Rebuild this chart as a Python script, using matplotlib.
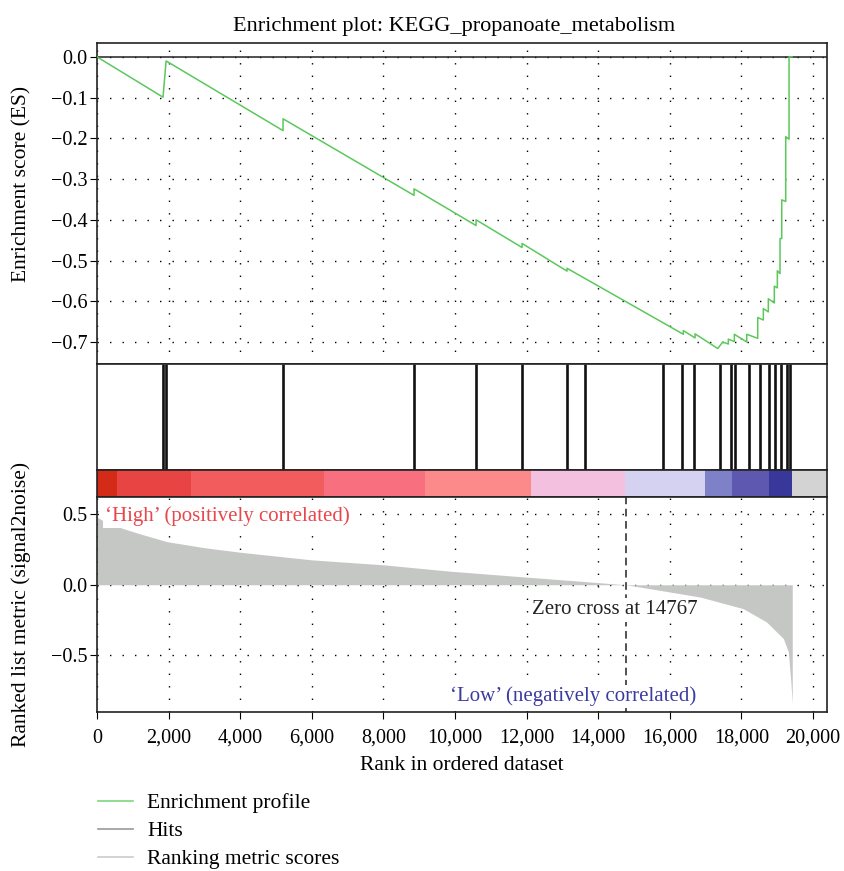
import matplotlib
matplotlib.use("Agg")
import matplotlib.pyplot as plt
from matplotlib.lines import Line2D
from matplotlib.ticker import FuncFormatter, MultipleLocator

# ranks of the genes of the set in the ordered list (hits)
hit_ranks = [1844, 1927, 5196, 8855, 10587, 11872, 13128, 13631, 15810, 16341,
             16676, 17402, 17709, 17821, 18212, 18520, 18771, 18939, 19106, 19274, 19358]

# corners of the running enrichment score
es_ranks = [0, 1844, 1930, 5196, 5196, 8855, 8855, 10587, 10587, 11872, 11872,
            13128, 13128, 16377, 16377, 16704, 16704, 17338, 17478, 17634, 17634,
            17802, 17802, 18148, 18148, 18455, 18455, 18612, 18612, 18751, 18751,
            18919, 18919, 19003, 19003, 19078, 19078, 19126, 19126, 19237, 19237,
            19330, 19330, 19413]
es_values = [0.0, -0.099, -0.010, -0.181, -0.152, -0.340, -0.324, -0.414, -0.400, -0.468, -0.458,
             -0.526, -0.519, -0.681, -0.672, -0.690, -0.680, -0.716, -0.700, -0.705, -0.693,
             -0.699, -0.681, -0.700, -0.681, -0.691, -0.640, -0.646, -0.618, -0.626, -0.594,
             -0.604, -0.563, -0.567, -0.525, -0.532, -0.446, -0.446, -0.351, -0.355, -0.196,
             -0.202, 0.0, 0.0]

# ranked list metric (signal2noise) along the ordered list
metric_ranks = [0, 150, 400, 700, 1200, 1950, 3000, 4000, 6000, 8000, 9860, 12000,
                13500, 14767, 15450, 16850, 18050, 18700, 19170, 19310, 19380, 19420]
metric_values = [0.48, 0.455, 0.43, 0.40, 0.36, 0.305, 0.262, 0.23, 0.176, 0.141, 0.096, 0.054,
                 0.025, 0.0, -0.028, -0.087, -0.169, -0.263, -0.38, -0.474, -0.685, -0.84]

# borders and colours of the heat bar under the hits
bar_edges = [0, 559, 2626, 6341, 9162, 12123, 14749, 16983, 17737, 18771, 19413]
bar_colors = ["#d42a18", "#e84444", "#f25c5c", "#f87080", "#fc8a8a",
              "#f4c0e0", "#d4d2f0", "#7e80c8", "#5e58b0", "#38389a"]

zero_cross = 14767
title = "Enrichment plot: KEGG_propanoate_metabolism"

X_MAX = 20390
FONT = 15.5
NOTE_FONT = 15
TICK_FONT = 14.5
GRID = dict(color="black", linestyle=(0, (1, 8)), linewidth=1.0)


def style_spines(axis):
    for spine in axis.spines.values():
        spine.set_color("#222222")
        spine.set_linewidth(1.2)


def signed(v, p):
    # one decimal with a real minus sign
    return f"{v:.1f}".replace("-", "\u2212")


def main():
    plt.rcParams["font.family"] = ["Liberation Serif", "DejaVu Serif"]
    plt.rcParams["font.size"] = FONT

    fig = plt.figure(figsize=(8.45, 8.71), dpi=100)
    left, width = 0.1148, 0.8639
    ax_es = fig.add_axes([left, 0.5821, width, 0.3685])
    ax_hits = fig.add_axes([left, 0.4604, width, 0.1217])
    ax_bar = fig.add_axes([left, 0.4294, width, 0.0310])
    ax_metric = fig.add_axes([left, 0.1825, width, 0.2468])

    # enrichment score panel
    ax_es.plot(es_ranks, es_values, color="#5cc85c", linewidth=1.1, zorder=3)
    ax_es.axhline(0, color="#222222", linewidth=1.1, zorder=2)
    ax_es.set_xlim(0, X_MAX)
    ax_es.set_ylim(-0.754, 0.034)
    ax_es.xaxis.set_major_locator(MultipleLocator(2000))
    ax_es.yaxis.set_major_locator(MultipleLocator(0.1))
    ax_es.yaxis.set_major_formatter(FuncFormatter(signed))
    ax_es.grid(True, **GRID)
    ax_es.tick_params(axis="x", bottom=False, labelbottom=False)
    ax_es.tick_params(axis="y", direction="out", length=5, pad=2, labelsize=TICK_FONT)
    ax_es.set_ylabel("Enrichment score (ES)", fontsize=FONT)
    ax_es.yaxis.set_label_coords(-0.09, 0.56)
    ax_es.set_title(title, fontsize=16, pad=9, x=0.489)
    style_spines(ax_es)

    # hits panel
    ax_hits.vlines(hit_ranks, 0, 1, color="#111111", linewidth=1.9)
    ax_hits.set_xlim(0, X_MAX)
    ax_hits.set_ylim(0, 1)
    ax_hits.set_xticks([])
    ax_hits.set_yticks([])
    style_spines(ax_hits)

    # heat bar
    ax_bar.set_facecolor("#d3d3d3")
    for start, end, color in zip(bar_edges[:-1], bar_edges[1:], bar_colors):
        ax_bar.axvspan(start, end, color=color, linewidth=0)
    ax_bar.set_xlim(0, X_MAX)
    ax_bar.set_xticks([])
    ax_bar.set_yticks([])
    style_spines(ax_bar)

    # ranked list metric panel
    ax_metric.fill_between(metric_ranks, metric_values, 0, color="#c5c7c5", linewidth=0, zorder=2)
    ax_metric.axvline(zero_cross, color="#222222", linestyle=(0, (5, 3)), linewidth=1.1, zorder=3)
    ax_metric.set_xlim(0, X_MAX)
    ax_metric.set_ylim(-0.90, 0.62)
    ax_metric.xaxis.set_major_locator(MultipleLocator(2000))
    ax_metric.xaxis.set_major_formatter(FuncFormatter(lambda v, p: f"{int(v):,}"))
    ax_metric.yaxis.set_major_locator(MultipleLocator(0.5))
    ax_metric.yaxis.set_major_formatter(FuncFormatter(signed))
    ax_metric.grid(True, **GRID)
    ax_metric.set_axisbelow(True)
    ax_metric.tick_params(axis="x", direction="out", length=5, pad=7, labelsize=TICK_FONT)
    ax_metric.tick_params(axis="y", direction="out", length=5, pad=2, labelsize=TICK_FONT)
    ax_metric.set_xlabel("Rank in ordered dataset", fontsize=FONT, labelpad=6)
    ax_metric.set_ylabel("Ranked list metric (signal2noise)", fontsize=FONT)
    ax_metric.yaxis.set_label_coords(-0.09, 0.5)
    style_spines(ax_metric)

    # notes inside the metric panel, on white boxes
    box = dict(facecolor="white", edgecolor="none", pad=1.5)
    ax_metric.text(220, 0.483, "\u2018High\u2019 (positively correlated)", color="#e8474b",
                   ha="left", va="center", fontsize=NOTE_FONT, bbox=box, zorder=4)
    ax_metric.text(9860, -0.79, "\u2018Low\u2019 (negatively correlated)", color="#3c3ca0",
                   ha="left", va="center", fontsize=NOTE_FONT, bbox=box, zorder=4)
    ax_metric.text(12140, -0.178, f"Zero cross at {zero_cross}", color="#222222",
                   ha="left", va="center", fontsize=NOTE_FONT, bbox=box, zorder=4)

    # legend under the plot
    handles = [Line2D([], [], color="#7ed67e", linewidth=1.2),
               Line2D([], [], color="#999999", linewidth=1.2),
               Line2D([], [], color="#cccccc", linewidth=1.2)]
    labels = ["Enrichment profile", "Hits", "Ranking metric scores"]
    fig.legend(handles, labels, loc="upper left", bbox_to_anchor=(0.116, 0.0895),
               frameon=False, fontsize=FONT, handlelength=1.63, handletextpad=0.65,
               labelspacing=0.37, borderpad=0, borderaxespad=0)

    fig.savefig("out.png", dpi=100)


if __name__ == "__main__":
    main()
